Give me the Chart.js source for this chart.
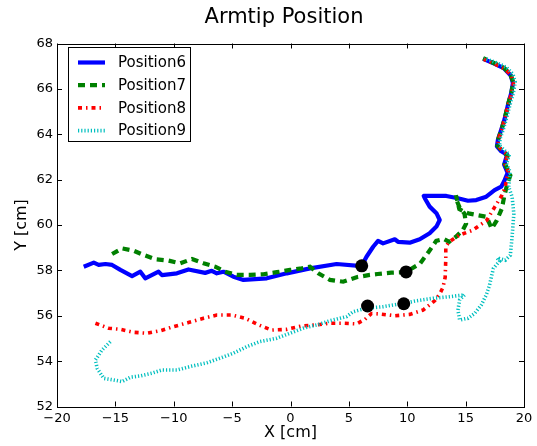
<!DOCTYPE html>
<html>
<head>
<meta charset="utf-8">
<script src="https://cdn.jsdelivr.net/npm/chart.js@4/dist/chart.umd.min.js"></script>
<style>
html,body{margin:0;padding:0;background:#fff;}
#wrap{width:537px;height:446px;}
</style>
</head>
<body>
<div id="wrap"><canvas id="c" width="537" height="446"></canvas></div>
<script>
// ---- data ----
const chartTitle = "Armtip Position";
const seriesNames = ["Position6", "Position7", "Position8", "Position9"];
const xTickValues = [-20, -15, -10, -5, 0, 5, 10, 15, 20];
const yTickValues = [52, 54, 56, 58, 60, 62, 64, 66, 68];

const position6 = [
  [-17.71,58.16],[-16.85,58.34],[-16.43,58.24],[-15.85,58.28],[-15.28,58.24],[-14.57,58.02],
  [-13.57,57.75],[-12.86,57.94],[-12.44,57.65],[-11.3,57.94],[-11.01,57.79],[-9.73,57.87],
  [-8.74,58.04],[-7.31,57.89],[-6.74,57.98],[-6.31,57.87],[-5.74,57.94],[-4.89,57.72],
  [-4.03,57.58],[-2.03,57.65],[-0.32,57.87],[1.67,58.09],[3.95,58.28],[6.09,58.19],
  [6.51,58.6],[7.08,59.04],[7.5,59.3],[7.93,59.19],[8.93,59.37],[9.21,59.26],[10.21,59.22],
  [11.07,59.37],[11.92,59.64],[12.5,59.93],[12.78,60.22],[12.5,60.52],[11.92,60.81],
  [11.5,61.18],[11.41,61.28],[12.21,61.28],[13.35,61.28],[14.34,61.18],[15.2,61.07],
  [15.91,61.1],[16.77,61.25],[17.48,61.54],[18.05,61.69],
  [18.3,61.93],[18.6,62.3],[18.3,62.66],[18.55,63.1],[18.05,63.25],[17.68,63.47],[17.77,63.76],
  [18.05,64.2],[18.33,64.65],[18.6,65.24],[18.9,65.8],[19.05,66.26],[18.85,66.6],[18.3,66.9],
  [17.5,67.1],[16.5,67.32]
];
const position7 = [
  [-15.28,58.72],[-14.43,58.97],[-13.44,58.87],[-12.58,58.68],[-11.58,58.49],[-10.44,58.43],
  [-9.44,58.31],[-8.44,58.5],[-7.45,58.31],[-6.45,58.16],[-5.6,57.94],[-4.6,57.8],[-3.46,57.8],
  [-2.32,57.83],[-1.18,57.92],[-0.04,58.02],[0.96,58.09],[1.67,58.16],[2.38,57.87],[3.38,57.58],
  [4.51,57.5],[5.66,57.7],[6.79,57.8],[7.46,57.84],[8.63,57.9],[9.85,57.92],[11.1,58.3],
  [11.84,58.82],[12.48,59.3],[13.15,59.38],[13.59,59.26],[14.17,59.48],[14.75,59.77],
  [15.04,60.06],[14.9,60.5],[14.46,60.8],[14.23,61.09],[14.17,61.31],[14.46,60.7],[15.0,60.55],
  [15.34,60.5],[16.06,60.43],[16.8,60.36],[17.23,59.84],[17.67,60.2],[18.1,60.72],[18.3,61.24],
  [18.54,61.75],[18.83,62.19],
  [18.6,62.45],[18.35,62.7],[18.6,63.05],[18.1,63.28],[17.72,63.5],[17.8,63.8],[18.1,64.25],
  [18.35,64.7],[18.62,65.3],[18.92,65.85],[19.08,66.3],[18.85,66.62],[18.3,66.92],[17.5,67.12],
  [16.5,67.35]
];
const position8 = [
  [-16.71,55.67],[-15.57,55.45],[-14.57,55.4],[-13.44,55.27],[-12.29,55.23],[-11.15,55.34],
  [-10.02,55.52],[-8.74,55.7],[-7.45,55.89],[-6.31,56.03],[-5.03,56.03],[-3.89,55.89],
  [-2.75,55.6],[-1.61,55.37],[-0.32,55.4],[0.96,55.55],[2.24,55.6],[3.38,55.67],[4.51,55.67],
  [5.66,55.64],[6.37,55.84],[6.94,56.1],[7.65,56.08],[8.93,56.0],[10.21,56.06],[11.35,56.25],
  [12.35,56.66],[12.78,56.96],[13.06,57.25],[13.25,57.7],[13.3,58.5],[13.3,59.04],[13.6,59.26],
  [14.46,59.55],[15.6,59.77],[16.8,60.2],[17.5,60.8],[18.1,61.3],[18.4,61.68],
  [18.5,62.0],[18.65,62.35],[18.35,62.7],[18.6,63.1],[18.1,63.3],[17.75,63.5],[17.82,63.8],
  [18.08,64.22],[18.36,64.68],[18.64,65.28],[18.93,65.82],[19.1,66.28],[18.9,66.6],[18.35,66.88],
  [17.55,67.08],[16.55,67.3]
];
const position9 = [
  [-15.43,54.86],[-16.14,54.49],[-16.71,54.05],[-16.56,53.68],[-16.0,53.24],[-15.15,53.17],
  [-14.43,53.1],[-13.72,53.29],[-12.86,53.35],[-11.86,53.47],[-11.01,53.61],[-9.73,53.61],
  [-8.59,53.76],[-7.16,53.93],[-6.03,54.13],[-4.89,54.35],[-3.74,54.64],[-2.61,54.86],
  [-1.18,55.01],[-0.04,55.23],[1.09,55.45],[2.24,55.59],[3.38,55.78],[4.8,55.96],[5.37,56.18],
  [6.51,56.33],[7.93,56.4],[9.36,56.52],[10.79,56.66],[12.21,56.77],[13.63,56.84],[14.91,56.92],
  [14.49,56.7],[14.34,56.25],[14.49,55.81],[15.2,55.89],[15.77,56.1],[16.34,56.47],[16.77,56.92],
  [17.05,57.36],[17.38,58.09],[17.9,58.4],[17.7,58.55],[18.4,58.45],[18.83,58.67],[18.98,59.48],
  [19.13,60.5],[18.98,61.24],[18.69,61.68],
  [18.75,62.0],[18.8,62.35],[18.5,62.7],[18.75,63.1],[18.3,63.3],[17.9,63.5],[17.95,63.8],
  [18.25,64.25],[18.5,64.7],[18.8,65.3],[19.1,65.85],[19.25,66.3],[19.05,66.65],[18.5,66.95],
  [17.65,67.15],[16.6,67.35]
];
const markerPoints = [[6.1,58.2],[9.9,57.93],[6.6,56.43],[9.7,56.53]];

// ---- styles ----
const toXY = a => a.map(p => ({x: p[0], y: p[1]}));
const styles = [
  {color:'#0000ff', width:4.2, dash:[]},
  {color:'#008000', width:4.2, dash:[7,5]},
  {color:'#ff0000', width:3.6, dash:[4,4,1.5,4]},
  {color:'#00bfbf', width:3.6, dash:[1.2,2]}
];
const allSeries = [position6, position7, position8, position9];
const datasets = allSeries.map((s, i) => ({
  label: seriesNames[i],
  data: toXY(s),
  showLine: true,
  pointRadius: 0,
  borderColor: styles[i].color,
  backgroundColor: styles[i].color,
  borderWidth: styles[i].width,
  borderDash: styles[i].dash,
  borderCapStyle: 'butt',
  borderJoinStyle: i === 0 ? 'round' : 'miter',
  tension: 0,
  order: 3 - i
}));
datasets.push({
  label: 'markers',
  data: toXY(markerPoints),
  showLine: false,
  pointRadius: 6.5,
  pointBackgroundColor: '#000',
  pointBorderColor: '#000',
  pointBorderWidth: 0,
  order: -1
});

const FONT = "'DejaVu Sans', sans-serif";
const fmt = v => String(v).replace('-', '\u2212');

const framePlugin = {
  id: 'frame',
  afterDatasetsDraw(chart) {
    const {ctx, chartArea: a, scales} = chart;
    ctx.save();
    ctx.strokeStyle = '#000';
    ctx.lineWidth = 1;
    ctx.beginPath();
    xTickValues.forEach(v => {
      const px = Math.round(scales.x.getPixelForValue(v)) + 0.5;
      ctx.moveTo(px, a.bottom); ctx.lineTo(px, a.bottom - 5);
      ctx.moveTo(px, a.top); ctx.lineTo(px, a.top + 5);
    });
    yTickValues.forEach(v => {
      const py = Math.round(scales.y.getPixelForValue(v)) + 0.5;
      ctx.moveTo(a.left, py); ctx.lineTo(a.left + 5, py);
      ctx.moveTo(a.right, py); ctx.lineTo(a.right - 5, py);
    });
    ctx.stroke();
    ctx.strokeRect(Math.round(a.left) + 0.5, Math.round(a.top) + 0.5,
                   Math.round(a.right - a.left), Math.round(a.bottom - a.top));
    // title
    ctx.fillStyle = '#000';
    ctx.font = "21px " + FONT;
    ctx.textAlign = 'center';
    ctx.textBaseline = 'middle';
    ctx.fillText(chartTitle, 284, 18);
    // legend box
    const lx = 68.5, ly = 47.5, lw = 122, lh = 94;
    ctx.fillStyle = '#fff';
    ctx.fillRect(lx, ly, lw, lh);
    ctx.strokeRect(lx, ly, lw, lh);
    ctx.font = "15px " + FONT;
    ctx.textBaseline = 'middle';
    ctx.textAlign = 'left';
    seriesNames.forEach((name, i) => {
      const y = 62.5 + i * 22.7;
      ctx.save();
      ctx.strokeStyle = styles[i].color;
      ctx.lineWidth = styles[i].width;
      ctx.setLineDash(styles[i].dash);
      ctx.lineCap = 'butt';
      ctx.beginPath();
      ctx.moveTo(78, y); ctx.lineTo(105, y);
      ctx.stroke();
      ctx.restore();
      ctx.fillStyle = '#000';
      ctx.fillText(name, 118, y + 1);
    });
    ctx.restore();
  }
};

new Chart(document.getElementById('c'), {
  type: 'scatter',
  data: {datasets},
  options: {
    responsive: false,
    animation: false,
    devicePixelRatio: 1,
    layout: {padding: {left: 0, right: 13, top: 43.5, bottom: 0}},
    plugins: {
      legend: {display: false},
      tooltip: {enabled: false},
      title: {display: false}
    },
    scales: {
      x: {
        type: 'linear', min: -20, max: 20,
        afterBuildTicks: s => { s.ticks = xTickValues.map(v => ({value: v})); },
        afterFit: s => { s.height = 39.5; },
        grid: {display: false, drawTicks: false},
        border: {display: false},
        ticks: {color: '#000', padding: 4, maxRotation: 0, font: {family: FONT, size: 13}, callback: v => fmt(v)},
        title: {display: true, text: 'X [cm]', color: '#000', font: {family: FONT, size: 16, lineHeight: 1.2}, padding: {top: 0, bottom: 3.4}}
      },
      y: {
        type: 'linear', min: 52, max: 68,
        afterBuildTicks: s => { s.ticks = yTickValues.map(v => ({value: v})); },
        afterFit: s => { s.width = 57; },
        grid: {display: false, drawTicks: false},
        border: {display: false},
        ticks: {color: '#000', padding: 4, font: {family: FONT, size: 13}, callback: v => fmt(v)},
        title: {display: true, text: 'Y [cm]', color: '#000', font: {family: FONT, size: 16, lineHeight: 1.2}, padding: {top: 12.4, bottom: 0}}
      }
    }
  },
  plugins: [framePlugin]
});
</script>
</body>
</html>
